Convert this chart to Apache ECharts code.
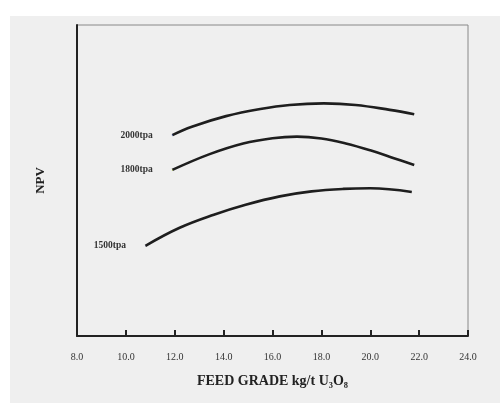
<!DOCTYPE html>
<html>
<head>
<meta charset="utf-8">
<script src="https://cdn.jsdelivr.net/npm/echarts@6/dist/echarts.min.js"></script>
<style>
  html, body { margin: 0; padding: 0; background: #fff; }
  #chart { width: 500px; height: 403px; }
</style>
</head>
<body>
<div id="chart"></div>
<script>
// feed grade (kg/t U3O8) vs NPV (no scale on the y axis, 0-100 relative)
const xTicks = [8, 10, 12, 14, 16, 18, 20, 22, 24];
const names = ['2000tpa', '1800tpa', '1500tpa'];
const grade2000 = [11.9, 12.7, 14.1, 15.5, 16.7, 18.1, 19.4, 20.8, 21.8];
const npv2000 = [64.6, 67.3, 70.7, 73.0, 74.3, 74.8, 74.3, 72.7, 71.3];
const grade1800 = [11.9, 13.4, 14.8, 16.0, 17.0, 18.0, 19.0, 20.0, 21.0, 21.8];
const npv1800 = [53.4, 58.4, 61.9, 63.6, 64.1, 63.5, 61.9, 59.7, 57.1, 55.0];
const grade1500 = [10.8, 12.2, 13.6, 14.9, 16.3, 17.6, 18.9, 20.0, 21.7];
const npv1500 = [29.0, 34.8, 39.0, 42.2, 44.9, 46.5, 47.3, 47.5, 46.3];

const chart = echarts.init(document.getElementById('chart'));
const serif = '"Liberation Serif", "DejaVu Serif", serif';

// 把曲线名字放在起点左边
function makeSeries(name, xs, ys) {
  const data = xs.map((x, i) => {
    if (i === 0) {
      return {
        value: [x, ys[i]],
        symbol: 'circle', symbolSize: 1,
        label: {
          show: true, position: 'left', distance: 19,
          formatter: name, fontSize: 9.5, fontWeight: 'bold',
          fontFamily: serif, color: '#333'
        }
      };
    }
    return { value: [x, ys[i]], symbolSize: 0 };
  });
  return {
    name: name,
    type: 'line',
    smooth: 0.4,
    showSymbol: true,
    symbol: 'none',
    data: data,
    lineStyle: { color: '#1e1e1e', width: 2.6 }
  };
}

chart.setOption({
  backgroundColor: '#fff',
  animation: false,
  graphic: [{
    type: 'rect', z: -10, silent: true,
    shape: { x: 10, y: 16, width: 490, height: 387 },
    style: { fill: '#efefef' }
  }],
  grid: {
    left: 77, top: 25, right: 32, bottom: 67,
    show: true, borderColor: '#888', borderWidth: 1,
    backgroundColor: 'transparent'
  },
  xAxis: {
    type: 'value',
    min: xTicks[0], max: xTicks[xTicks.length - 1], interval: 2,
    axisLine: { show: true, lineStyle: { color: '#222', width: 2 } },
    axisTick: { show: true, inside: true, length: 6, lineStyle: { color: '#222', width: 2 } },
    axisLabel: {
      fontSize: 10, fontFamily: serif, color: '#333', margin: 16,
      formatter: v => v.toFixed(1)
    },
    splitLine: { show: false },
    name: 'FEED GRADE kg/t U\u2083O\u2088',
    nameLocation: 'middle', nameGap: 38,
    nameTextStyle: { fontSize: 14, fontWeight: 'bold', fontFamily: serif, color: '#222' }
  },
  yAxis: {
    type: 'value', min: 0, max: 100,
    axisLine: { show: true, lineStyle: { color: '#222', width: 2 } },
    axisTick: { show: false },
    axisLabel: { show: false },
    splitLine: { show: false },
    name: 'NPV', nameLocation: 'middle', nameGap: 30, nameRotate: 90,
    nameTextStyle: { fontSize: 13, fontWeight: 'bold', fontFamily: serif, color: '#222' }
  },
  series: [
    makeSeries(names[0], grade2000, npv2000),
    makeSeries(names[1], grade1800, npv1800),
    makeSeries(names[2], grade1500, npv1500)
  ]
});
</script>
</body>
</html>
